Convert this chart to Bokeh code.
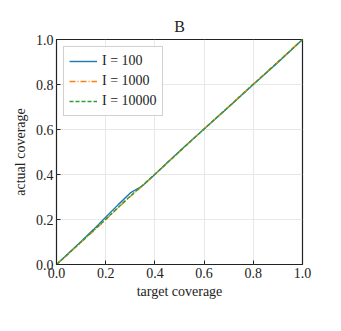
from bokeh.plotting import figure
from bokeh.embed import file_html
from bokeh.resources import INLINE
from bokeh.models import Range1d, Legend, LegendItem, FixedTicker

target = [0.0, 0.05, 0.1, 0.15, 0.2, 0.25, 0.3, 0.35, 0.4, 0.45, 0.5, 0.55, 0.6, 0.65, 0.7, 0.75, 0.8, 0.85, 0.9, 0.95, 1.0]
actual_100 = [0.0, 0.051, 0.102, 0.155, 0.21, 0.265, 0.318, 0.35, 0.40, 0.452, 0.503, 0.553, 0.602, 0.651, 0.70, 0.75, 0.80, 0.849, 0.898, 0.949, 1.0]
actual_1000 = [0.0, 0.049, 0.099, 0.148, 0.199, 0.252, 0.302, 0.35, 0.401, 0.451, 0.501, 0.552, 0.603, 0.652, 0.702, 0.752, 0.802, 0.851, 0.901, 0.951, 1.0]
actual_10000 = [0.0, 0.05, 0.1, 0.151, 0.201, 0.253, 0.304, 0.352, 0.401, 0.452, 0.502, 0.552, 0.602, 0.652, 0.701, 0.751, 0.801, 0.85, 0.9, 0.95, 1.0]
labels = ["I = 100", "I = 1000", "I = 10000"]
ticks = [0.0, 0.2, 0.4, 0.6, 0.8, 1.0]

FONT = "Liberation Serif"

p = figure(width=333, height=322, output_backend="svg", toolbar_location=None,
           x_range=Range1d(0, 1), y_range=Range1d(0, 1),
           min_border_left=56, min_border_right=31, min_border_top=39, min_border_bottom=58,
           title="B")
p.title.align = "center"
p.title.text_font = FONT
p.title.text_font_size = "16px"
p.title.text_font_style = "normal"
p.title.text_color = "#222222"

p.outline_line_color = "#222222"
p.outline_line_width = 1.2

for ax in (p.xaxis[0], p.yaxis[0]):
    ax.ticker = FixedTicker(ticks=ticks)
    ax.major_label_overrides = {0: "0.0", 1: "1.0"}
    ax.major_tick_in = 4
    ax.major_tick_out = 0
    ax.minor_tick_in = 0
    ax.minor_tick_out = 0
    ax.axis_line_color = None
    ax.major_tick_line_color = "#222222"
    ax.major_label_text_font = FONT
    ax.major_label_text_font_size = "14px"
    ax.major_label_text_color = "#222222"
    ax.axis_label_text_font = FONT
    ax.axis_label_text_font_size = "14px"
    ax.axis_label_text_font_style = "normal"
    ax.axis_label_text_color = "#222222"
    ax.major_label_standoff = 3

p.xaxis[0].axis_label = "target coverage"
p.yaxis[0].axis_label = "actual coverage"
p.xaxis[0].axis_label_standoff = 3
p.yaxis[0].axis_label_standoff = 5

p.grid.grid_line_color = "#e2e2e2"
p.grid.grid_line_width = 0.8

r1 = p.line(target, actual_100, line_color="#1f77b4", line_width=1.4)
r2 = p.line(target, actual_1000, line_color="#ff7f0e", line_width=1.4, line_dash="6 2 1 2")
r3 = p.line(target, actual_10000, line_color="#2ca02c", line_width=1.4, line_dash="4 2")

legend = Legend(items=[LegendItem(label=labels[0], renderers=[r1]),
                       LegendItem(label=labels[1], renderers=[r2]),
                       LegendItem(label=labels[2], renderers=[r3])],
                location="top_left")
legend.label_text_font = FONT
legend.label_text_font_size = "14px"
legend.label_text_color = "#222222"
legend.glyph_width = 28
legend.glyph_height = 18
legend.label_height = 18
legend.spacing = 2
legend.padding = 5
legend.margin = 7
legend.border_line_color = "#d0d0d0"
legend.border_line_alpha = 1
legend.background_fill_alpha = 0.9
p.add_layout(legend)

open("out.html", "w").write(file_html(p, INLINE))
